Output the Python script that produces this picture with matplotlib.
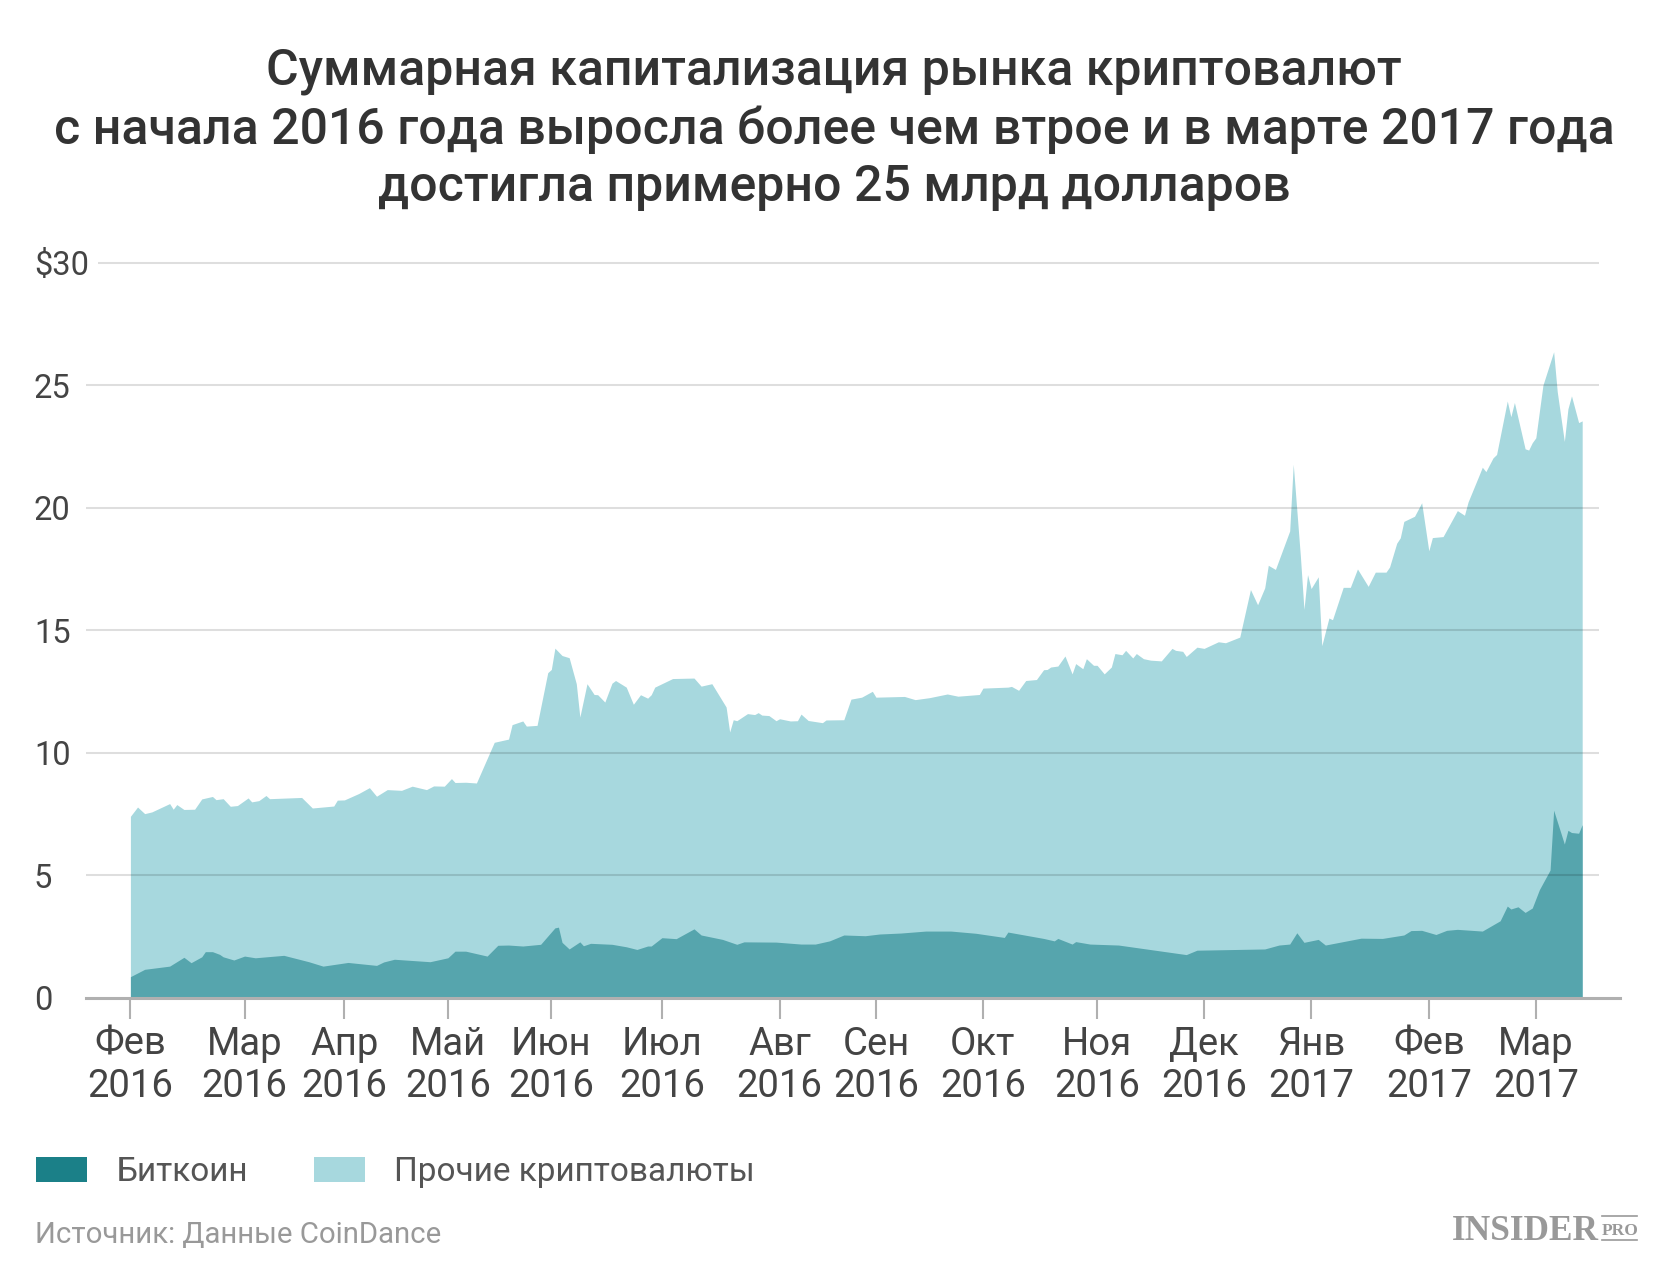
import matplotlib
matplotlib.use('Agg')
import matplotlib.pyplot as plt
import matplotlib.patches as mpatches
from matplotlib.lines import Line2D

plt.rcParams['font.family'] = ['Roboto', 'DejaVu Sans']

# x = observation index along the axis (0 = start of Feb 2016)
total_day = [0, 2, 4, 6, 11, 12, 13, 15, 18, 20, 23, 24, 26, 28, 30, 33, 34, 36, 38, 39,
             48, 51, 57, 58, 60, 64, 67, 69, 72, 76, 79, 83, 85, 88, 90, 91, 94, 97, 102, 106,
             107, 110, 111, 114, 117, 118, 119, 121, 123, 125, 126, 128, 130, 131, 133, 135,
             136, 139, 141, 143, 145, 146, 147, 152, 158, 160, 163, 167, 168, 169, 170, 173,
             175, 176, 177, 179, 181, 182, 185, 187, 188, 190, 194, 195, 200, 202, 205, 208,
             209, 217, 220, 224, 229, 232, 238, 239, 246, 247, 249, 251, 254, 256, 257, 258,
             260, 262, 264, 265, 267, 268, 270, 271, 273, 275, 276, 278, 279, 281, 282, 284,
             286, 289, 292, 293, 295, 296, 299, 301, 305, 307, 311, 314, 316, 318, 319, 321,
             325, 326, 328, 329, 330, 331, 333, 334, 336, 337, 340, 342, 344, 347, 349, 352,
             353, 355, 356, 357, 360, 362, 364, 365, 368, 372, 374, 375, 378, 379, 380, 382,
             383, 386, 387, 388, 391, 392, 393, 394, 396, 399, 400, 402, 403, 404, 406, 407]
total_val = [7.41, 7.79, 7.52, 7.59, 7.93, 7.70, 7.89, 7.69, 7.70, 8.12, 8.22, 8.09, 8.13,
             7.82, 7.85, 8.16, 8.00, 8.05, 8.26, 8.13, 8.18, 7.75, 7.83, 8.07, 8.08, 8.34,
             8.58, 8.23, 8.50, 8.47, 8.64, 8.50, 8.65, 8.64, 8.95, 8.79, 8.80, 8.77, 10.43,
             10.56, 11.15, 11.30, 11.09, 11.12, 13.27, 13.40, 14.27, 13.97, 13.88, 12.82,
             11.46, 12.82, 12.38, 12.37, 12.07, 12.84, 12.95, 12.68, 11.98, 12.37, 12.23,
             12.37, 12.68, 13.03, 13.05, 12.72, 12.82, 11.87, 10.85, 11.35, 11.31, 11.60,
             11.56, 11.64, 11.54, 11.52, 11.31, 11.39, 11.30, 11.31, 11.58, 11.32, 11.23,
             11.34, 11.35, 12.19, 12.27, 12.51, 12.27, 12.30, 12.17, 12.25, 12.40, 12.31,
             12.38, 12.64, 12.68, 12.71, 12.55, 12.95, 12.99, 13.39, 13.40, 13.50, 13.54,
             13.95, 13.22, 13.64, 13.43, 13.84, 13.57, 13.57, 13.22, 13.50, 14.05, 14.00,
             14.18, 13.87, 14.05, 13.84, 13.78, 13.75, 14.26, 14.18, 14.14, 13.93, 14.31,
             14.26, 14.53, 14.49, 14.72, 16.66, 16.04, 16.73, 17.65, 17.48, 19.05, 21.77,
             18.02, 15.85, 17.27, 16.70, 17.18, 14.37, 15.50, 15.43, 16.75, 16.75, 17.50,
             16.79, 17.37, 17.37, 17.58, 18.55, 18.77, 19.44, 19.65, 20.20, 18.24, 18.78,
             18.82, 19.88, 19.69, 20.23, 21.29, 21.65, 21.47, 22.03, 22.17, 24.35, 23.71,
             24.29, 22.40, 22.35, 22.65, 22.85, 25.00, 26.36, 24.74, 22.70, 24.03, 24.56,
             23.47, 23.54]

btc_day = [0, 4, 11, 15, 17, 20, 21, 23, 25, 26, 29, 32, 35, 43, 50, 54, 61, 69, 71, 74,
           84, 89, 91, 94, 100, 103, 106, 110, 115, 119, 120, 121, 123, 126, 127, 129, 135,
           139, 142, 145, 146, 149, 153, 158, 160, 166, 170, 172, 181, 188, 192, 196, 200,
           206, 210, 216, 223, 230, 237, 245, 246, 256, 259, 260, 264, 265, 269, 277, 296,
           299, 318, 322, 325, 327, 329, 333, 335, 345, 351, 357, 359, 362, 366, 369, 372,
           379, 384, 386, 387, 389, 391, 393, 395, 398, 399, 402, 403, 404, 406, 407]
btc_val = [0.87, 1.17, 1.30, 1.66, 1.44, 1.68, 1.89, 1.89, 1.78, 1.68, 1.55, 1.71, 1.64,
           1.74, 1.48, 1.30, 1.45, 1.33, 1.47, 1.58, 1.48, 1.64, 1.91, 1.91, 1.71, 2.15,
           2.16, 2.12, 2.19, 2.86, 2.89, 2.27, 2.00, 2.29, 2.13, 2.23, 2.19, 2.09, 1.98,
           2.12, 2.12, 2.46, 2.42, 2.82, 2.57, 2.39, 2.19, 2.29, 2.28, 2.20, 2.20, 2.33,
           2.57, 2.54, 2.61, 2.65, 2.73, 2.73, 2.64, 2.47, 2.69, 2.43, 2.33, 2.43, 2.20,
           2.30, 2.20, 2.16, 1.77, 1.95, 2.00, 2.16, 2.20, 2.66, 2.27, 2.39, 2.16, 2.44,
           2.43, 2.57, 2.75, 2.76, 2.59, 2.76, 2.80, 2.73, 3.15, 3.75, 3.63, 3.72, 3.49,
           3.67, 4.42, 5.22, 7.66, 6.28, 6.84, 6.75, 6.72, 7.07]

tick_day = [0, 32, 60, 89, 118, 149, 182, 209, 239, 271, 301, 331, 364, 394]
tick_labels = ['Фев\n2016', 'Мар\n2016', 'Апр\n2016', 'Май\n2016', 'Июн\n2016',
               'Июл\n2016', 'Авг\n2016', 'Сен\n2016', 'Окт\n2016', 'Ноя\n2016',
               'Дек\n2016', 'Янв\n2017', 'Фев\n2017', 'Мар\n2017']
y_ticks = [0, 5, 10, 15, 20, 25, 30]
y_labels = ['0', '5', '10', '15', '20', '25', '$30']

TITLE = ('Суммарная капитализация рынка криптовалют\n'
         'с начала 2016 года выросла более чем втрое и в марте 2017 года\n'
         'достигла примерно 25 млрд долларов')

C_BTC = '#1b8088'
C_BTC_AREA = '#56a5ad'
C_OTHER = '#a7d8de'
TEXT = '#444444'
AXIS = '#b0b0b0'

W, H = 1668, 1266
fig = plt.figure(figsize=(W / 100, H / 100), dpi=100)
ax = fig.add_axes([86 / W, 1 - 998 / H, (1620 - 86) / W, (998 - 262.5) / H])

ax.fill_between(total_day, 0, total_val, color=C_OTHER, lw=0, zorder=1)
ax.fill_between(btc_day, 0, btc_val, color=C_BTC_AREA, lw=0, zorder=2)

x_left, x_right = -12.45, 417.6
grid_end = 411.8
ax.hlines(y_ticks[1:-1], x_left, grid_end, color='black', alpha=0.13, lw=1.5, zorder=3)
ax.hlines([30], -9.1, grid_end, color='black', alpha=0.13, lw=1.5, zorder=3, clip_on=False)

ax.set_xlim(x_left, x_right)
ax.set_ylim(0, 30)

for s in ['top', 'right', 'left']:
    ax.spines[s].set_visible(False)
ax.spines['bottom'].set_color(AXIS)
ax.spines['bottom'].set_linewidth(2.2)
ax.spines['bottom'].set_zorder(4)

ax.set_xticks(tick_day, tick_labels)
ax.tick_params(axis='x', length=15, width=1.5, color=AXIS, pad=5,
               labelsize=27.5, labelcolor=TEXT)
for lab in ax.get_xticklabels():
    lab.set_linespacing(1.18)

ax.set_yticks(y_ticks, y_labels)
ax.tick_params(axis='y', length=0, pad=37.5, labelsize=23.5, labelcolor=TEXT)
for lab in ax.get_yticklabels():
    lab.set_horizontalalignment('left')

fig.text(0.5, 1 - 47 / H, TITLE, ha='center', va='top', fontsize=36.0,
         fontweight='medium', color='#333333', linespacing=1.26)

handles = [mpatches.Patch(facecolor=C_BTC, edgecolor='none', label='Биткоин'),
           mpatches.Patch(facecolor=C_OTHER, edgecolor='none', label='Прочие криптовалюты')]
fig.legend(handles=handles, loc='center left', bbox_to_anchor=(6 / W, 1 - 1172 / H),
           ncol=2, frameon=False, fontsize=24.0, labelcolor='#555555',
           handlelength=1.53, handleheight=0.75, handletextpad=0.87, columnspacing=1.98)

fig.text(35 / W, 1 - 1243 / H, 'Источник: Данные CoinDance', ha='left', va='baseline',
         fontsize=21.2, color='#999999')

# logo
fig.text(1452 / W, 1 - 1240 / H, 'INSIDER', ha='left', va='baseline', fontsize=25.4,
         fontweight='bold', family='Liberation Serif', color='#999999')
fig.text(1620 / W, 1 - 1235 / H, 'PRO', ha='center', va='baseline', fontsize=12.5,
         fontweight='bold', family='Liberation Serif', color='#999999')
for yy in (1216, 1239.5):
    fig.add_artist(Line2D([1602 / W, 1637 / W], [1 - yy / H, 1 - yy / H],
                          transform=fig.transFigure, color='#999999', lw=1.2))

fig.savefig('out.png', dpi=100)
